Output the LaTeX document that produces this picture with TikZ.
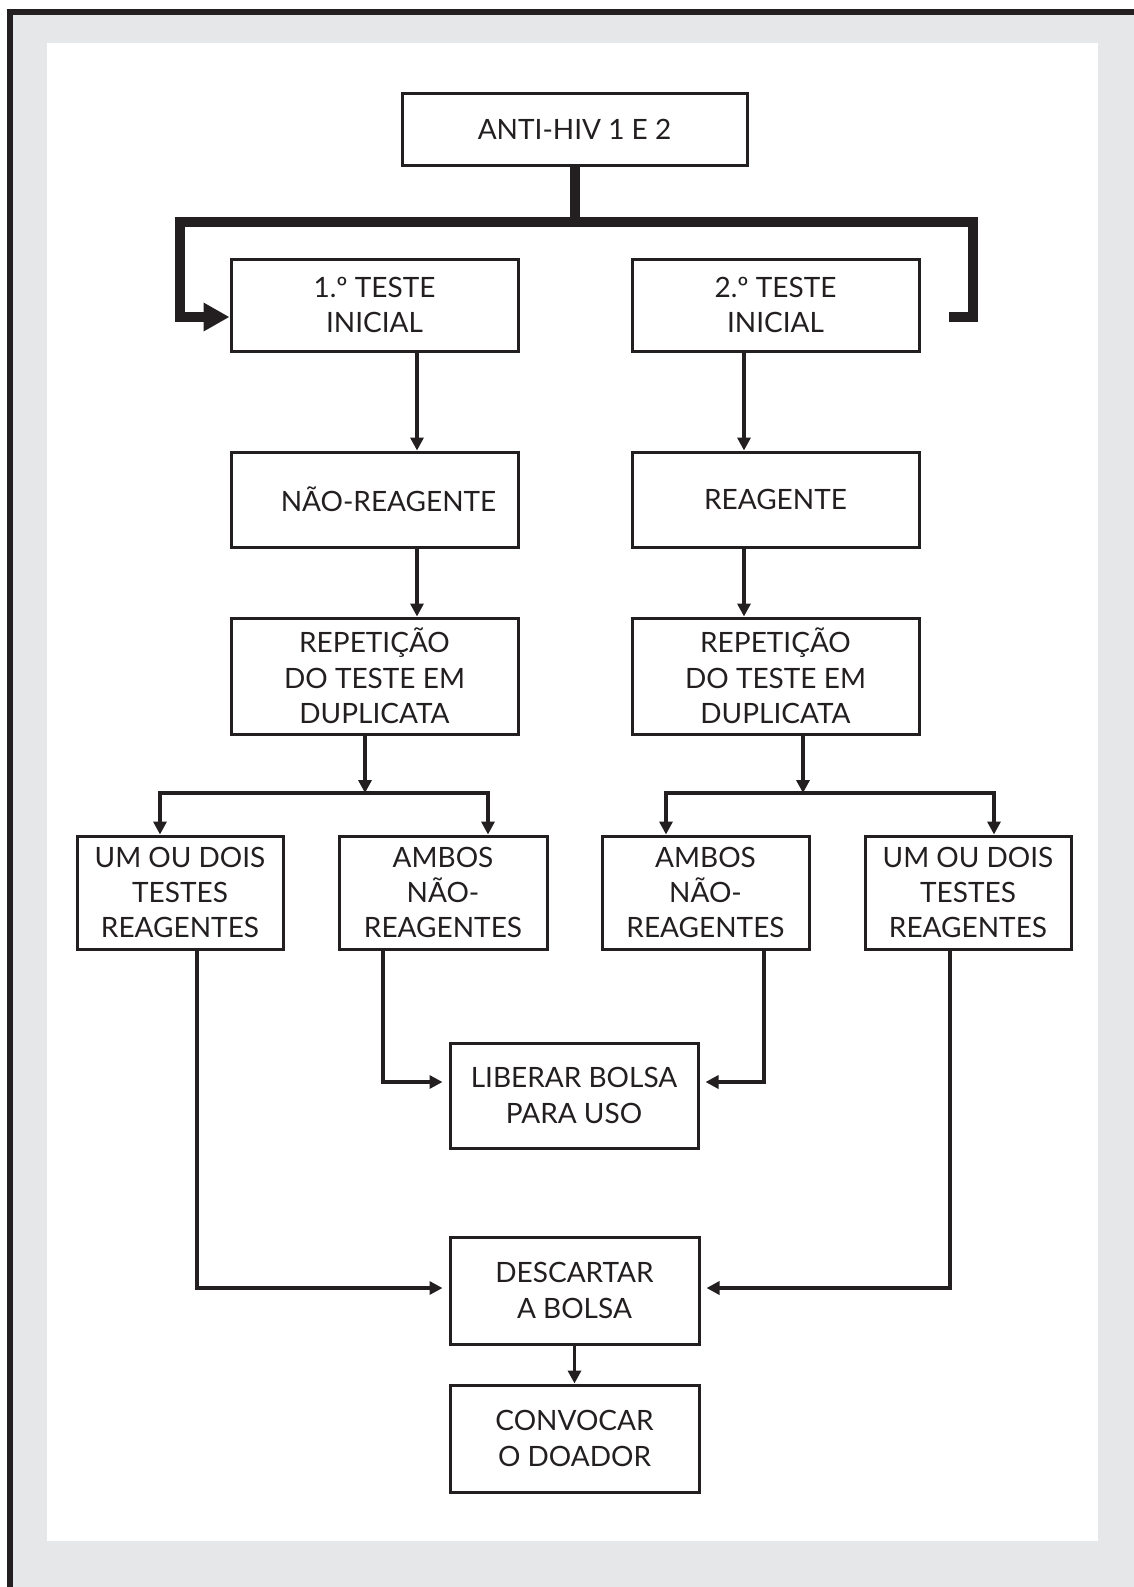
\documentclass[tikz,border=0pt]{standalone}
\usepackage{fontspec}
\setmainfont{Lato}
\usetikzlibrary{arrows.meta}
\definecolor{tinta}{HTML}{231F20}
\definecolor{fundo}{HTML}{E6E7E8}
\tikzset{
  caixa/.style={draw=tinta, line width=1.5pt, fill=white, align=center, inner sep=0pt,
    text=tinta, font=\fontsize{14}{17.7}\selectfont},
  liga/.style={draw=tinta, line width=1.8pt, line join=miter, >={Triangle[length=6.5pt,width=6.5pt]}},
  barra/.style={draw=tinta, line width=5pt, line join=miter}
}
\newcommand{\bloco}[6]{\node[caixa, minimum width={(#4-#2)*0.5pt}, minimum height={(#5-#3)*0.5pt}] (#1) at ({(#2+#4)/2},{(#3+#5)/2}) {#6};}

\begin{document}
\begin{tikzpicture}[x=0.5pt,y=-0.5pt]
\useasboundingbox (0,0) rectangle (1134,1587);
% moldura
\fill[white] (0,0) rectangle (1134,1587);
\fill[fundo] (10,12) rectangle (1134,1587);
\fill[white] (47,43) rectangle (1098,1541);
\draw[tinta, line width=3pt] (10,1587) -- (10,12) -- (1134,12);
% caixas do topo
\bloco{hiv}{402}{93}{747}{165}{ANTI-HIV 1 E 2}
\bloco{t1}{231}{259}{518}{351}{1.º TESTE\\INICIAL}
\bloco{t2}{632}{259}{919}{351}{2.º TESTE\\INICIAL}
% resultados
\bloco{nr}{231}{452}{518}{547}{\hspace{14pt}NÃO-REAGENTE}
\bloco{re}{632}{452}{919}{547}{REAGENTE}
\bloco{rep1}{231}{618}{518}{734}{REPETIÇÃO\\DO TESTE EM\\DUPLICATA}
\bloco{rep2}{632}{618}{919}{734}{REPETIÇÃO\\DO TESTE EM\\DUPLICATA}
% duplicatas
\bloco{um1}{77}{836}{283}{949}{UM OU DOIS\\TESTES\\REAGENTES}
\bloco{amb1}{339}{836}{547}{949}{AMBOS\\NÃO-\\REAGENTES}
\bloco{amb2}{602}{836}{809}{949}{AMBOS\\NÃO-\\REAGENTES}
\bloco{um2}{865}{836}{1071}{949}{UM OU DOIS\\TESTES\\REAGENTES}
% destino da bolsa
\bloco{lib}{450}{1043}{698}{1148}{LIBERAR BOLSA\\PARA USO}
\bloco{desc}{450}{1237}{699}{1344}{DESCARTAR\\A BOLSA}
\bloco{conv}{450}{1385}{699}{1492}{CONVOCAR\\O DOADOR}
% pontos de passagem
\coordinate (bl) at (180,222);
\coordinate (br) at (973,222);
\coordinate (pe) at (180,317);
\coordinate (dr) at (973,317);
\coordinate (dh) at (949,317);
\coordinate (a1) at (417,0);
\coordinate (a2) at (744,0);
\coordinate (g1) at (365,793);
\coordinate (g1l) at (160,793);
\coordinate (g1r) at (488,793);
\coordinate (g2) at (803,793);
\coordinate (g2l) at (666,793);
\coordinate (g2r) at (994,793);
\coordinate (la) at (383,1082);
\coordinate (lr) at (764,1082);
\coordinate (da) at (197,1288);
\coordinate (db) at (950,1288);
% chave grossa
\draw[barra] (hiv.south) -- (hiv.south |- bl);
\draw[barra, -{Triangle[length=13pt,width=13.5pt]}] (dh) -- (dr) -- (br) -- (bl) -- (pe) -- (t1.west |- pe);
% ligacoes verticais
\draw[liga,->] (t1.south -| a1) -- (nr.north -| a1);
\draw[liga,->] (nr.south -| a1) -- (rep1.north -| a1);
\draw[liga,->] (t2.south -| a2) -- (re.north -| a2);
\draw[liga,->] (re.south -| a2) -- (rep2.north -| a2);
% ramos das duplicatas
\draw[liga,->] (rep1.south -| g1) -- (g1);
\draw[liga,<->] (um1.north -| g1l) -- (g1l) -- (g1r) -- (amb1.north -| g1r);
\draw[liga,->] (rep2.south -| g2) -- (g2);
\draw[liga,<->] (amb2.north -| g2l) -- (g2l) -- (g2r) -- (um2.north -| g2r);
% para liberar e descartar
\draw[liga,->,shorten >=3pt] (amb1.south -| la) -- (la) -- (lib.west |- la);
\draw[liga,->,shorten >=3pt] (amb2.south -| lr) -- (lr) -- (lib.east |- lr);
\draw[liga,->,shorten >=3pt] (um1.south -| da) -- (da) -- (desc.west |- da);
\draw[liga,->,shorten >=3pt] (um2.south -| db) -- (db) -- (desc.east |- db);
\draw[liga,->] (desc.south) -- (conv.north);
\end{tikzpicture}
\end{document}
